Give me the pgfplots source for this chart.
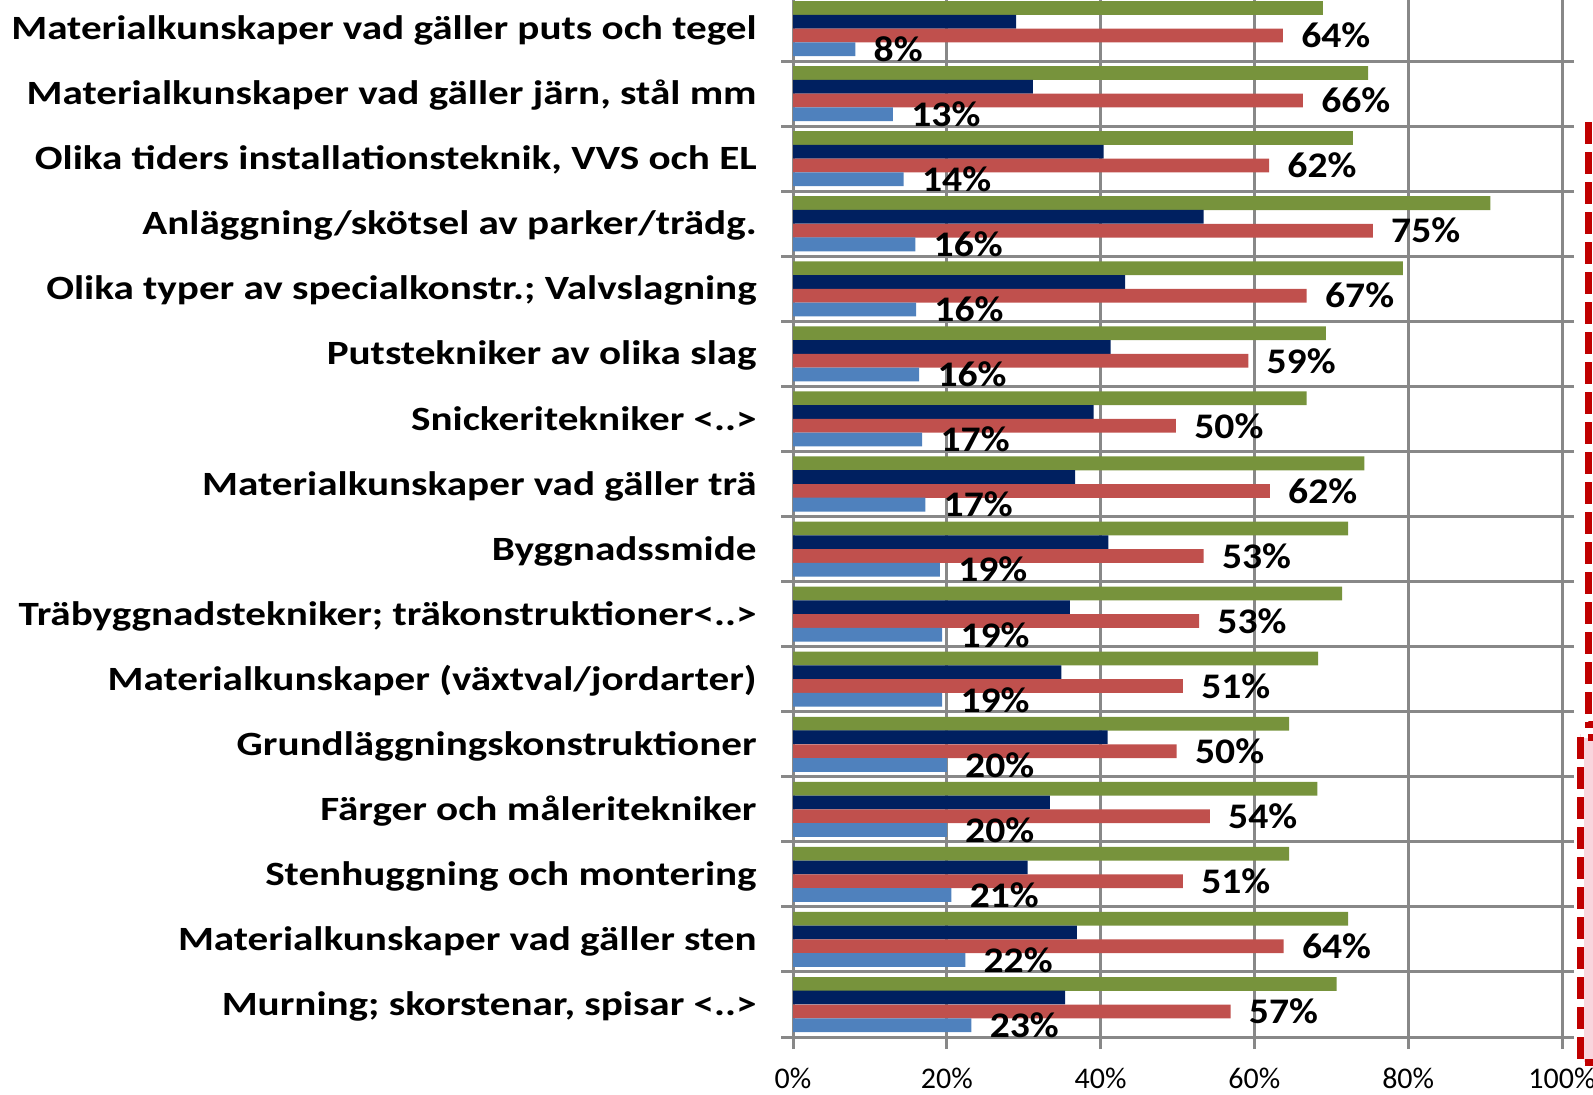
\documentclass[border=0pt]{standalone}
\usepackage{pgfplots}
\usepackage{pgfplotstable}
\pgfplotsset{compat=1.18}
\usepackage{fontspec}
\setmainfont{Carlito}
\newfontfamily\catfont[FakeStretch=1.21]{Carlito}
\newfontfamily\lblfont[FakeStretch=1.1]{Carlito}
\definecolor{cgreen}{HTML}{77933C}
\definecolor{cnavy}{HTML}{002060}
\definecolor{cred}{HTML}{C0504D}
\definecolor{cblue}{HTML}{4F81BD}
\definecolor{cgrid}{HTML}{888888}
\definecolor{cdash}{HTML}{C00000}
\definecolor{cpink}{HTML}{F9D5DD}

\pgfplotstableread{
y green navy red blue
1  68.9 29.0 63.7  8.1
2  74.8 31.2 66.3 13.0
3  72.8 40.4 61.9 14.4
4  90.7 53.4 75.4 15.9
5  79.3 43.2 66.8 16.0
6  69.3 41.3 59.2 16.4
7  66.8 39.1 49.8 16.8
8  74.3 36.7 62.0 17.2
9  72.2 41.0 53.4 19.1
10 71.4 36.0 52.8 19.4
11 68.3 34.9 50.7 19.4
12 64.5 40.9 49.9 20.0
13 68.2 33.4 54.2 20.0
14 64.5 30.5 50.7 20.6
15 72.2 36.9 63.8 22.4
16 70.7 35.4 56.9 23.2
}\datatable

\begin{document}
\begin{tikzpicture}[x=1pt,y=1pt]
\begin{axis}[
  at={(396.5pt,-518.5pt)}, anchor=south west,
  scale only axis, width=384.5pt, height=520.5pt,
  xmin=0, xmax=100, ymin=0.5, ymax=16.5, y dir=reverse,
  xbar, bar width=0.2115,
  /pgf/number format/assume math mode=true,
  xtick={0,20,40,60,80,100},
  xticklabels={0\%,20\%,40\%,60\%,80\%,100\%},
  ytick={0.5,1.5,...,16.5},
  yticklabels={
    Materialkunskaper vad gäller puts och tegel,
    {Materialkunskaper vad gäller järn, stål mm},
    {Olika tiders installationsteknik, VVS och EL},
    Anläggning/skötsel av parker/trädg.,
    Olika typer av specialkonstr.; Valvslagning\ ,
    Putstekniker av olika slag,
    Snickeritekniker <..>,
    Materialkunskaper vad gäller trä,
    Byggnadssmide,
    Träbyggnadstekniker; träkonstruktioner<..>,
    Materialkunskaper (växtval/jordarter),
    Grundläggningskonstruktioner,
    Färger och måleritekniker,
    Stenhuggning och montering,
    Materialkunskaper vad gäller sten,
    {Murning; skorstenar, spisar <..>},
    {}},
  yticklabel style={font=\catfont\bfseries\fontsize{17}{17}\selectfont, anchor=base east, inner sep=0pt, xshift=-12pt, yshift=-21.8pt},
  xticklabel style={font=\fontsize{15}{15}\selectfont, anchor=north, inner sep=0pt, yshift=-9.3pt},
  xmajorgrids, ymajorgrids,
  grid style={cgrid, line width=1.5pt},
  tick style={cgrid, line width=1.5pt},
  tick align=outside, major tick length=6pt,
  axis line style={cgrid, line width=1.5pt},
  nodes near coords={\pgfmathprintnumber[fixed,precision=0]{\pgfplotspointmeta}\%},
  every node near coord/.append style={font=\lblfont\bfseries\fontsize{18}{18}\selectfont, anchor=west, inner sep=0pt, xshift=9pt, text=black},
  point meta=x,
]
\addplot[fill=cgreen, draw=none, bar shift=-0.317, nodes near coords={}] table[x=green, y=y] {\datatable};
\addplot[fill=cnavy, draw=none, bar shift=-0.106, nodes near coords={}] table[x=navy, y=y] {\datatable};
\addplot[fill=cred, draw=none, bar shift=0.106] table[x=red, y=y] {\datatable};
\addplot[fill=cblue, draw=none, bar shift=0.317] table[x=blue, y=y] {\datatable};
\end{axis}
% annotation boxes on the right edge (cropped in the reference)
\draw[cdash, line width=3.5pt, dash pattern=on 11pt off 4pt] (794pt,-61pt) rectangle (830pt,-362pt);
\fill[cpink] (792pt,-369pt) rectangle (830pt,-531pt);
\draw[cdash, line width=3.5pt, dash pattern=on 11pt off 4pt] (790pt,-368.5pt) rectangle (830pt,-531pt);
\pgfresetboundingbox
\path[use as bounding box] (0pt,0pt) rectangle (796.5pt,-547pt);
\end{tikzpicture}
\end{document}
